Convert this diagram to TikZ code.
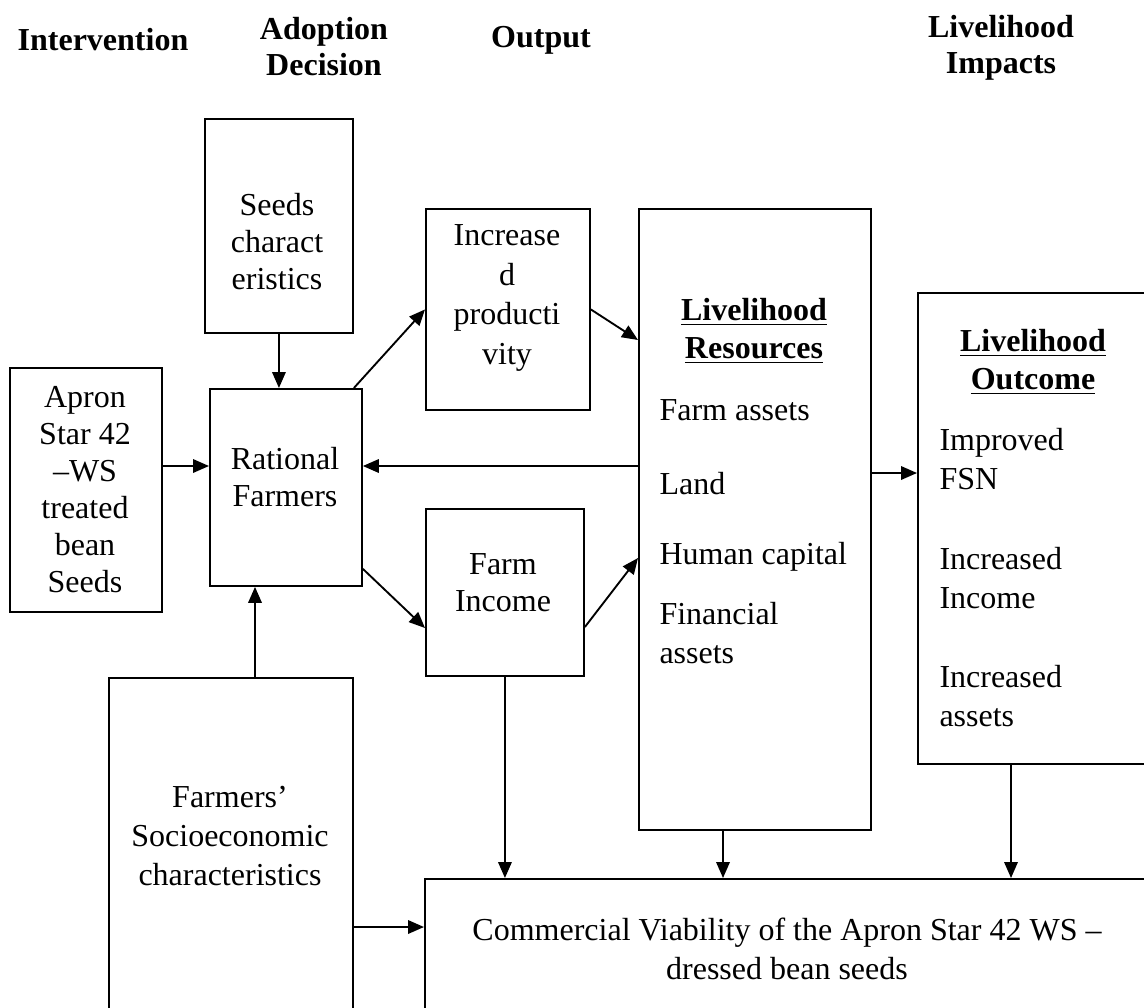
\documentclass[tikz,border=0pt]{standalone}
\usepackage{fontspec}
\setmainfont{Liberation Serif}
\usetikzlibrary{arrows.meta,calc}
\tikzset{
  box/.style={draw,line width=0.75pt,inner sep=0pt,anchor=north west},
  arr/.style={line width=0.75pt,-{Triangle[length=6.4pt,width=5.4pt]}},
  txt/.style={inner sep=0pt,align=center,font=\fontsize{12.8}{14.8}\selectfont},
  txtw/.style={inner sep=0pt,align=left,anchor=west,font=\fontsize{12.8}{15.8}\selectfont},
  head/.style={inner sep=0pt,align=center,font=\fontsize{12.8}{14.4}\selectfont\bfseries},
}
\newcommand{\bx}[5]{\node[box,minimum width=#4*0.4pt,minimum height=#5*0.4pt] (#1) at (#2,#3) {};}
\begin{document}
\begin{tikzpicture}[x=0.4pt,y=-0.4pt]
\useasboundingbox (0,0) rectangle (1144,1007);
\clip (0,0) rectangle (1144,1007);
% headers
\node[head] (h1) at (103,40) {Intervention};
\node[head] (h2) at (324,47) {Adoption\\Decision};
\node[head] (h3) at (541,40) {Output};
\node[head] (h4) at (1001,48) {Livelihood\\Impacts};
% boxes
\bx{seeds}{204}{118}{148}{214}
\bx{incr}{425}{208}{164}{201}
\bx{res}{638}{208}{232}{621}
\bx{out}{917}{292}{243}{471}
\bx{apron}{9}{367}{152}{244}
\bx{rat}{209}{388}{152}{197}
\bx{inc}{425}{508}{158}{167}
\bx{socio}{108}{677}{244}{353}
\bx{comm}{424}{878}{726}{152}
% texts
\node[txt] (tseeds) at (277,242) {Seeds\\charact\\eristics};
\node[txt,font=\fontsize{12.8}{15.9}\selectfont] (tincr) at (507,298) {Increase\\d\\producti\\vity};
\node[txt] (trat) at (285,477) {Rational\\Farmers};
\node[txt] (tapron) at (85,490) {Apron\\Star 42\\–WS\\treated\\bean\\Seeds};
\node[txt] (tinc) at (503,583) {Farm\\Income};
\node[txt,font=\fontsize{12.8}{15.2}\selectfont\bfseries] (tres) at (754,331) {\underline{Livelihood}\\\underline{Resources}};
\node[txtw] (r1t) at (659,410) {Farm assets};
\node[txtw] (r2t) at (659,484) {Land};
\node[txtw] (r3t) at (659,557) {Human capital};
\node[txtw] (r4t) at (659,633) {Financial\\assets};
\node[txt,font=\fontsize{12.8}{15.2}\selectfont\bfseries] (tout) at (1033,362) {\underline{Livelihood}\\\underline{Outcome}};
\node[txtw] (o1t) at (939,459) {Improved\\FSN};
\node[txtw] (o2t) at (939,578) {Increased\\Income};
\node[txtw] (o3t) at (939,696) {Increased\\assets};
\node[txt,font=\fontsize{12.8}{15.6}\selectfont] (tsocio) at (230,836) {Farmers’\\Socioeconomic\\characteristics};
\node[txt,font=\fontsize{12.8}{15.6}\selectfont] (tcomm) at (787,949) {Commercial Viability of the Apron Star 42 WS –\\dressed bean seeds};
% helper coordinates
\coordinate (c1) at ($(res.north west)+(0,258)$);
\coordinate (c2) at ($(res.north east)+(0,265)$);
\coordinate (c3) at ($(socio.north west)+(147,0)$);
\coordinate (c4) at ($(res.south west)+(85,0)$);
\coordinate (c5) at ($(out.south west)+(94,0)$);
\coordinate (c6) at ($(comm.north west)+(0,49)$);
% connectors
\draw[arr] (seeds.south) -- (seeds.south |- rat.north);
\draw[arr] (apron.east |- c1) -- (rat.west |- c1);
\draw[arr] (c1) -- (rat.east |- c1);
\draw[arr] ($(rat.north east)+(-9,0)$) -- (incr.west);
\draw[arr] (incr.east) -- ($(res.north west)+(0,132)$);
\draw[arr] ($(rat.south east)+(0,-18)$) -- ($(inc.north west)+(0,120)$);
\draw[arr] ($(inc.north east)+(0,119)$) -- ($(res.north west)+(0,350)$);
\draw[arr] (c2) -- (out.west |- c2);
\draw[arr] (c3) -- (c3 |- rat.south);
\draw[arr] (inc.south) -- (inc.south |- comm.north);
\draw[arr] (c4) -- (c4 |- comm.north);
\draw[arr] (c5) -- (c5 |- comm.north);
\draw[arr] (socio.east |- c6) -- (c6);
\end{tikzpicture}
\end{document}
